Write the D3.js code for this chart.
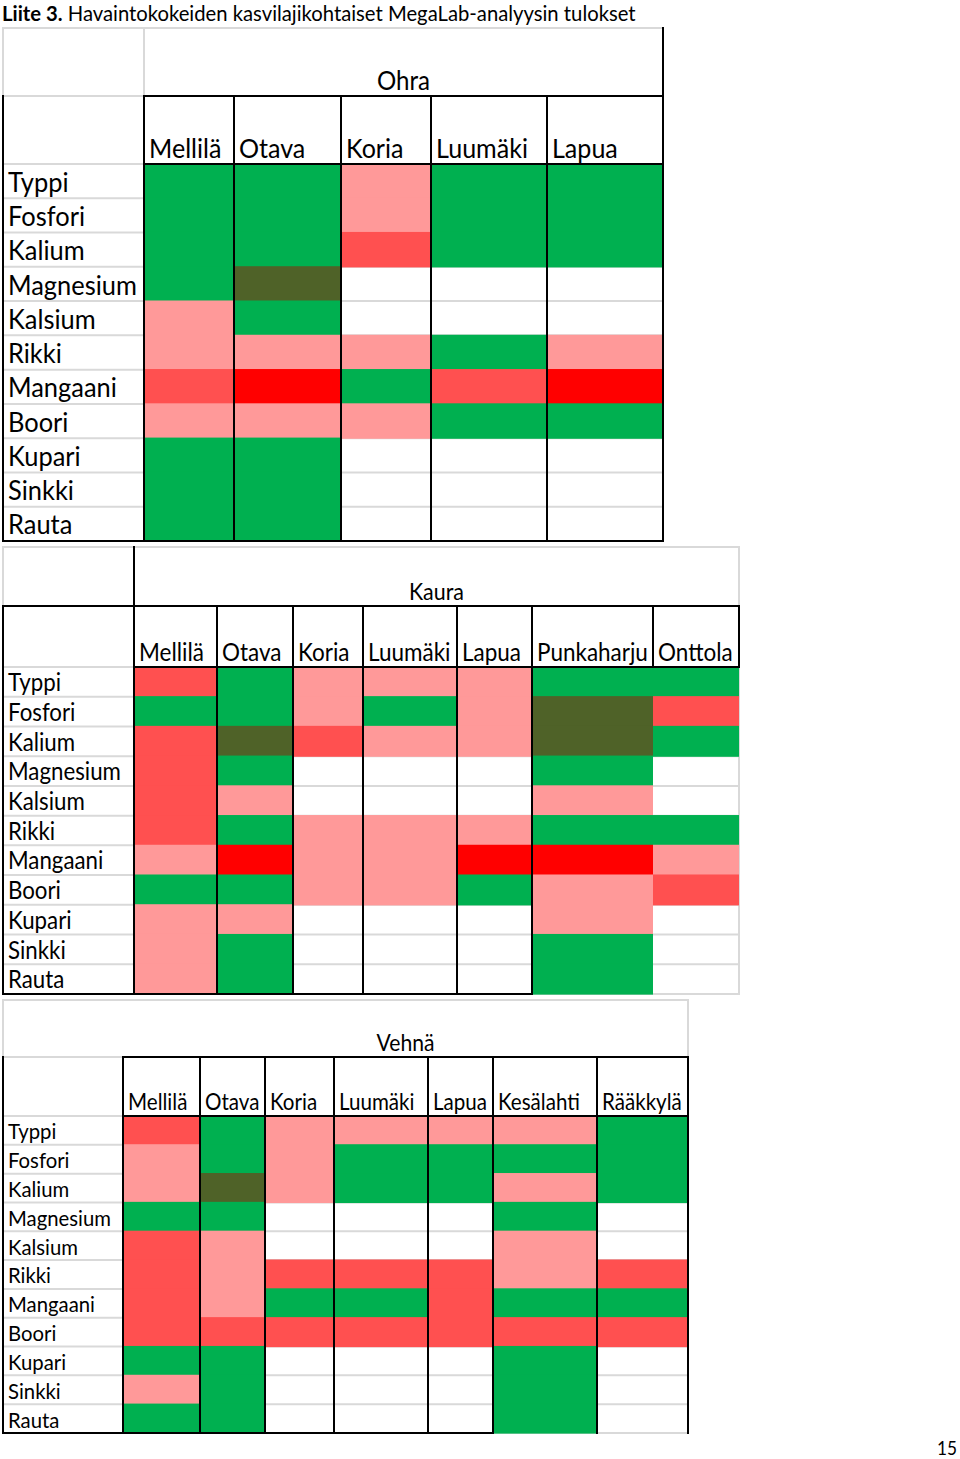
<!DOCTYPE html>
<html>
<head>
<meta charset="utf-8">
<script src="https://cdn.jsdelivr.net/npm/d3@7"></script>
<style>
  html, body { margin: 0; padding: 0; background: #fff; }
  svg { display: block; }
</style>
</head>
<body>
<script>
// ---------------- DATA ----------------
const nutrients = ["Typpi","Fosfori","Kalium","Magnesium","Kalsium","Rikki","Mangaani","Boori","Kupari","Sinkki","Rauta"];

// codes: G = green, D = dark olive, P = light red, R = red, X = bright red, "-" = empty
const ohraSites = ["Mellilä","Otava","Koria","Luumäki","Lapua"];
const ohraValues = [
  ["G","G","G","G","P","P","R","P","G","G","G"],
  ["G","G","G","D","G","P","X","P","G","G","G"],
  ["P","P","R","-","-","P","G","P","-","-","-"],
  ["G","G","G","-","-","G","R","G","-","-","-"],
  ["G","G","G","-","-","P","X","G","-","-","-"]
];

const kauraSites = ["Mellilä","Otava","Koria","Luumäki","Lapua","Punkaharju","Onttola"];
const kauraValues = [
  ["R","G","R","R","R","R","P","G","P","P","P"],
  ["G","G","D","G","P","G","X","G","P","G","G"],
  ["P","P","R","-","-","P","P","P","-","-","-"],
  ["P","G","P","-","-","P","P","P","-","-","-"],
  ["P","P","P","-","-","P","X","G","-","-","-"],
  ["G","D","D","G","P","G","X","P","P","G","G"],
  ["G","R","G","-","-","G","P","R","-","-","-"]
];

const vehnaSites = ["Mellilä","Otava","Koria","Luumäki","Lapua","Kesälahti","Rääkkylä"];
const vehnaValues = [
  ["R","P","P","G","R","R","R","R","G","P","G"],
  ["G","G","D","G","P","P","P","R","G","G","G"],
  ["P","P","P","-","-","R","G","R","-","-","-"],
  ["P","G","G","-","-","R","G","R","-","-","-"],
  ["P","G","G","-","-","R","R","R","-","-","-"],
  ["P","G","P","G","P","P","G","R","G","G","G"],
  ["G","G","G","-","-","R","G","R","-","-","-"]
];

const cropNames = ["Ohra","Kaura","Vehnä"];
const titleBold = "Liite 3.";
const titleRest = " Havaintokokeiden kasvilajikohtaiset MegaLab-analyysin tulokset";
const pageNumber = "15";

// ---------------- LAYOUT ----------------
const W = 960, H = 1459;
const FONT = "Lato, 'Open Sans', sans-serif";
const GRAY = "#d9d9d9", BLACK = "#000";
const K = 1.08; // vertical enlargement, horizontally condensed back to target width

const color = d3.scaleOrdinal()
  .domain(["G","D","P","R","X"])
  .range(["#00b050","#4f6228","#ff9999","#ff5050","#ff0000"]);

const tables = [
  { name: cropNames[0], sites: ohraSites, values: ohraValues,
    left: 3, labelW: 141, colW: [90,107,90,116,116],
    top: 28, hdr: 96, dataTop: 164, bottom: 541,
    rowFit: 129, siteFit: ["Luumäki", 92], nameFit: 53,
    headLeftBlack: false, headRightBlack: true, hdrLineLeftBlack: false,
    openCols: 0 },
  { name: cropNames[1], sites: kauraSites, values: kauraValues,
    left: 3, labelW: 131, colW: [83,76,70,94,75,121,86],
    top: 547, hdr: 606, dataTop: 667, bottom: 994,
    rowFit: 113, siteFit: ["Punkaharju", 111], nameFit: 55,
    headLeftBlack: true, headRightBlack: false, hdrLineLeftBlack: true,
    openCols: 2 },
  { name: cropNames[2], sites: vehnaSites, values: vehnaValues,
    left: 3, labelW: 120, colW: [77,65,69,94,65,104,91],
    top: 1000, hdr: 1057, dataTop: 1116, bottom: 1433,
    rowFit: 103, siteFit: ["Kesälahti", 82], nameFit: 58,
    headLeftBlack: null, headRightBlack: false, hdrLineLeftBlack: false,
    openCols: 2, vehna: true }
];

const svg = d3.select("body").append("svg")
  .attr("width", W).attr("height", H)
  .attr("viewBox", `0 0 ${W} ${H}`);
svg.append("rect").attr("width", W).attr("height", H).attr("fill", "#fff");

function fitSize(str, target, weight) {
  const t = svg.append("text").attr("font-family", FONT).attr("font-size", 20)
    .attr("font-weight", weight || "normal").text(str);
  const w = t.node().getComputedTextLength();
  t.remove();
  return 20 * target / w;
}

function line(g, x1, y1, x2, y2, stroke, sw) {
  g.append("line").attr("x1", x1).attr("y1", y1).attr("x2", x2).attr("y2", y2)
    .attr("stroke", stroke).attr("stroke-width", sw || 2).attr("stroke-linecap", "square");
}

// ---------------- TITLE ----------------
{
  const t = svg.append("text").attr("x", 2).attr("y", 21)
    .attr("font-family", FONT).attr("font-size", 20).attr("fill", "#000");
  t.append("tspan").attr("font-weight", "bold").text(titleBold);
  t.append("tspan").text(titleRest);
  const w = t.node().getComputedTextLength();
  t.attr("font-size", 20 * 634 / w);
}

// ---------------- TABLES ----------------
tables.forEach(tb => {
  const g = svg.append("g");
  const x0 = tb.left;
  const dataLeft = x0 + tb.labelW;
  const edges = [dataLeft];
  tb.colW.forEach(w => edges.push(edges[edges.length - 1] + w));
  const right = edges[edges.length - 1];

  const x = d3.scaleOrdinal().domain(tb.sites).range(edges.slice(0, -1));
  const cw = d3.scaleOrdinal().domain(tb.sites).range(tb.colW);
  const y = d3.scaleBand().domain(nutrients).range([tb.dataTop, tb.bottom]).paddingInner(0).paddingOuter(0);
  const rh = y.bandwidth();

  // gray grid (rows)
  const gridG = g.append("g");
  nutrients.forEach((n, i) => { if (i > 0) line(gridG, x0, y(n), right, y(n), GRAY); });
  line(gridG, x0, tb.top, right, tb.top, GRAY);
  line(gridG, x0, tb.top, x0, tb.hdr, GRAY);
  line(gridG, right, tb.top, right, tb.hdr, GRAY);
  if (tb.headLeftBlack === false) line(gridG, dataLeft, tb.top, dataLeft, tb.hdr, GRAY);
  line(gridG, x0, tb.hdr, dataLeft, tb.hdr, GRAY);
  line(gridG, x0, tb.dataTop, dataLeft, tb.dataTop, GRAY);
  line(gridG, x0, tb.bottom, right, tb.bottom, GRAY);
  line(gridG, right, tb.dataTop, right, tb.bottom, GRAY);

  // cells
  const cells = [];
  tb.sites.forEach((s, si) => tb.values[si].forEach((v, ni) => {
    if (v !== "-") cells.push({ site: s, nut: nutrients[ni], v });
  }));
  g.append("g").selectAll("rect").data(cells).join("rect")
    .attr("x", d => x(d.site))
    .attr("y", d => y(d.nut) - 0.6)
    .attr("width", d => cw(d.site))
    .attr("height", rh + 1.2)
    .attr("fill", d => color(d.v));

  // black borders
  const bG = g.append("g");
  const nOpen = tb.openCols;
  const closedRight = edges[edges.length - 1 - nOpen];
  if (tb.headLeftBlack) line(bG, dataLeft, tb.top, dataLeft, tb.hdr, BLACK);
  if (tb.headRightBlack) line(bG, right, tb.top, right, tb.hdr, BLACK);
  line(bG, tb.hdrLineLeftBlack ? x0 : dataLeft, tb.hdr, right, tb.hdr, BLACK);
  line(bG, dataLeft, tb.dataTop, right, tb.dataTop, BLACK);
  line(bG, x0, tb.hdr, x0, tb.bottom, BLACK);
  edges.forEach((e, i) => {
    const full = tb.vehna ? true : (i <= edges.length - 1 - nOpen);
    line(bG, e, tb.hdr, e, full ? tb.bottom : tb.dataTop, BLACK);
  });
  line(bG, x0, tb.bottom, closedRight, tb.bottom, BLACK);

  // texts
  const rowSize = fitSize("Magnesium", tb.rowFit) * K;
  const siteSize = fitSize(tb.siteFit[0], tb.siteFit[1]) * K;
  const nameSize = fitSize(tb.name, tb.nameFit) * K;

  g.append("g").selectAll("text").data(nutrients).join("text")
    .attr("class", "cond")
    .attr("x", x0 + 5)
    .attr("y", d => y(d) + rh - rh * 0.19)
    .attr("font-family", FONT).attr("font-size", rowSize).attr("fill", "#000")
    .text(d => d);

  g.append("g").selectAll("text").data(tb.sites).join("text")
    .attr("class", "cond")
    .attr("x", d => x(d) + 5)
    .attr("y", tb.dataTop - 6)
    .attr("font-family", FONT).attr("font-size", siteSize).attr("fill", "#000")
    .text(d => d);

  g.append("text")
    .attr("class", "cond")
    .attr("x", (dataLeft + right) / 2)
    .attr("y", tb.hdr - 6)
    .attr("text-anchor", "middle")
    .attr("font-family", FONT).attr("font-size", nameSize).attr("fill", "#000")
    .text(tb.name);
});

// page number
svg.append("text").attr("class", "cond").attr("x", 957).attr("y", 1455).attr("text-anchor", "end")
  .attr("font-family", FONT).attr("font-size", fitSize(pageNumber, 20) * K).attr("fill", "#000")
  .text(pageNumber);

// condense horizontally back to the measured widths (Calibri-like proportions)
svg.selectAll("text.cond").each(function () {
  const w = this.getComputedTextLength();
  d3.select(this).attr("textLength", w / K).attr("lengthAdjust", "spacingAndGlyphs");
});
</script>
</body>
</html>
